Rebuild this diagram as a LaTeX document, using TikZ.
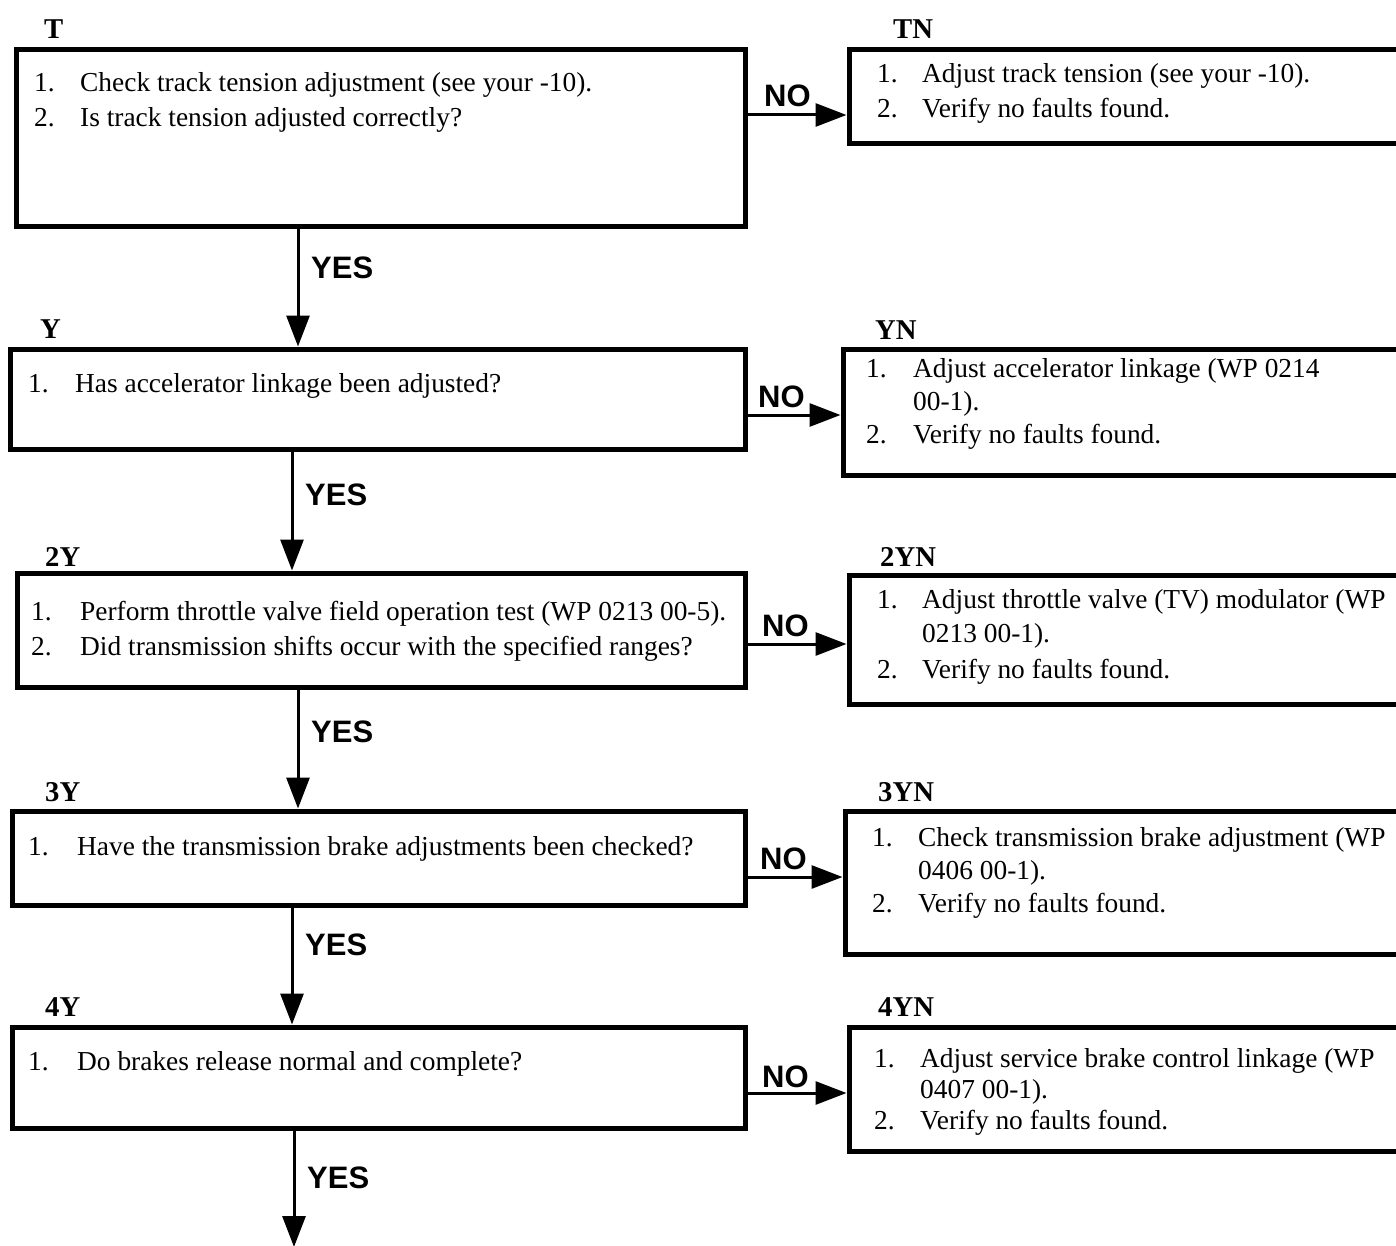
\documentclass[tikz,border=0pt]{standalone}
\usepackage{fontspec}
\setmainfont{Liberation Serif}
\newfontfamily\sansb{Liberation Sans}
\usetikzlibrary{arrows.meta}
\begin{document}
\begin{tikzpicture}[x=1pt,y=-1pt,
  box/.style={draw, line width=5pt, inner sep=0pt, rectangle},
  txt/.style={anchor=base west, inner sep=0pt, font=\fontsize{27.4}{34}\selectfont},
  lbl/.style={anchor=base west, inner sep=0pt, font=\fontsize{28.7}{34}\selectfont\bfseries},
  yn/.style={anchor=base west, inner sep=0pt, font=\fontsize{31}{34}\selectfont\sansb\bfseries},
  arr/.style={line width=3pt, -{Triangle[width=23pt,length=31pt]}}]
\useasboundingbox (0,0) rectangle (1396,1246);
\clip (0,0) rectangle (1396,1246);
% boxes
\node[box, minimum width=729pt, minimum height=177pt] (T) at (380.5,138.5) {};
\node[box, minimum width=571pt, minimum height=94pt] (TN) at (1134.5,97) {};
\node[box, minimum width=735pt, minimum height=100pt] (Y) at (377.5,399) {};
\node[box, minimum width=577pt, minimum height=126pt] (YN) at (1131.5,412) {};
\node[box, minimum width=728pt, minimum height=114pt] (Y2) at (381,630) {};
\node[box, minimum width=571pt, minimum height=129pt] (Y2N) at (1134.5,639.5) {};
\node[box, minimum width=733pt, minimum height=94pt] (Y3) at (378.5,858) {};
\node[box, minimum width=575pt, minimum height=143pt] (Y3N) at (1132.5,882.5) {};
\node[box, minimum width=733pt, minimum height=101pt] (Y4) at (378.5,1077.5) {};
\node[box, minimum width=571pt, minimum height=124pt] (Y4N) at (1134.5,1089) {};
% box labels
\node[lbl] (lT) at (44,39) {T};
\node[lbl] (lTN) at (893,39) {TN};
\node[lbl] (lY) at (40,338) {Y};
\node[lbl] (lYN) at (875,339) {YN};
\node[lbl] (lY2) at (45,566) {2Y};
\node[lbl] (lY2N) at (880,566) {2YN};
\node[lbl] (lY3) at (45,801) {3Y};
\node[lbl] (lY3N) at (878,801) {3YN};
\node[lbl] (lY4) at (45,1016) {4Y};
\node[lbl] (lY4N) at (878,1016) {4YN};
% texts T
\node[txt] (t1n) at (34,92) {1.};
\node[txt] (t1) at (80,92) {Check track tension adjustment (see your -10).};
\node[txt] (t2n) at (34,127) {2.};
\node[txt] (t2) at (80,127) {Is track tension adjusted correctly?};
% TN
\node[txt] (tn1n) at (877,83) {1.};
\node[txt] (tn1) at (922,83) {Adjust track tension (see your -10).};
\node[txt] (tn2n) at (877,118) {2.};
\node[txt] (tn2) at (922,118) {Verify no faults found.};
% Y
\node[txt] (y1n) at (28,392) {1.};
\node[txt] (y1) at (75,392) {Has accelerator linkage been adjusted?};
% YN
\node[txt] (yn1n) at (866,377) {1.};
\node[txt] (yn1) at (913,377) {Adjust accelerator linkage (WP 0214};
\node[txt] (yn1b) at (913,410) {00-1).};
\node[txt] (yn2n) at (866,443) {2.};
\node[txt] (yn2) at (913,443) {Verify no faults found.};
% 2Y
\node[txt] (a1n) at (31,620) {1.};
\node[txt] (a1) at (80,620) {Perform throttle valve field operation test (WP 0213 00-5).};
\node[txt] (a2n) at (31,655) {2.};
\node[txt] (a2) at (80,655) {Did transmission shifts occur with the specified ranges?};
% 2YN
\node[txt] (an1n) at (877,608) {1.};
\node[txt] (an1) at (922,608) {Adjust throttle valve (TV) modulator (WP};
\node[txt] (an1b) at (922,642) {0213 00-1).};
\node[txt] (an2n) at (877,678) {2.};
\node[txt] (an2) at (922,678) {Verify no faults found.};
% 3Y
\node[txt] (b1n) at (28,855) {1.};
\node[txt] (b1) at (77,855) {Have the transmission brake adjustments been checked?};
% 3YN
\node[txt] (bn1n) at (872,846) {1.};
\node[txt] (bn1) at (918,846) {Check transmission brake adjustment (WP};
\node[txt] (bn1b) at (918,879) {0406 00-1).};
\node[txt] (bn2n) at (872,912) {2.};
\node[txt] (bn2) at (918,912) {Verify no faults found.};
% 4Y
\node[txt] (c1n) at (28,1070) {1.};
\node[txt] (c1) at (77,1070) {Do brakes release normal and complete?};
% 4YN
\node[txt] (cn1n) at (874,1067) {1.};
\node[txt] (cn1) at (920,1067) {Adjust service brake control linkage (WP};
\node[txt] (cn1b) at (920,1098) {0407 00-1).};
\node[txt] (cn2n) at (874,1129) {2.};
\node[txt] (cn2) at (920,1129) {Verify no faults found.};
% connector columns
\coordinate (c1x) at (298,0);
\coordinate (c2x) at (292,0);
\coordinate (c3x) at (298,0);
\coordinate (c4x) at (292,0);
\coordinate (c5x) at (294,0);
\coordinate (endpt) at (294,1247);
% YES arrows
\draw[arr] (T.south -| c1x) -- (Y.north -| c1x);
\draw[arr] (Y.south -| c2x) -- (Y2.north -| c2x);
\draw[arr] (Y2.south -| c3x) -- (Y3.north -| c3x);
\draw[arr] (Y3.south -| c4x) -- (Y4.north -| c4x);
\draw[arr] (Y4.south -| c5x) -- (endpt);
\node[yn] (yes1) at (311,279) {YES};
\node[yn] (yes2) at (305,505) {YES};
\node[yn] (yes3) at (311,742) {YES};
\node[yn] (yes4) at (305,955) {YES};
\node[yn] (yes5) at (307,1188) {YES};
% NO arrows
\coordinate (n1) at (0,115);
\coordinate (n2) at (0,415);
\coordinate (n3) at (0,644);
\coordinate (n4) at (0,877);
\coordinate (n5) at (0,1093);
\draw[arr] (T.east |- n1) -- (TN.west |- n1);
\draw[arr] (Y.east |- n2) -- (YN.west |- n2);
\draw[arr] (Y2.east |- n3) -- (Y2N.west |- n3);
\draw[arr] (Y3.east |- n4) -- (Y3N.west |- n4);
\draw[arr] (Y4.east |- n5) -- (Y4N.west |- n5);
\node[yn] (no1) at (764,107) {NO};
\node[yn] (no2) at (758,407) {NO};
\node[yn] (no3) at (762,636) {NO};
\node[yn] (no4) at (760,869) {NO};
\node[yn] (no5) at (762,1087) {NO};
\end{tikzpicture}
\end{document}
